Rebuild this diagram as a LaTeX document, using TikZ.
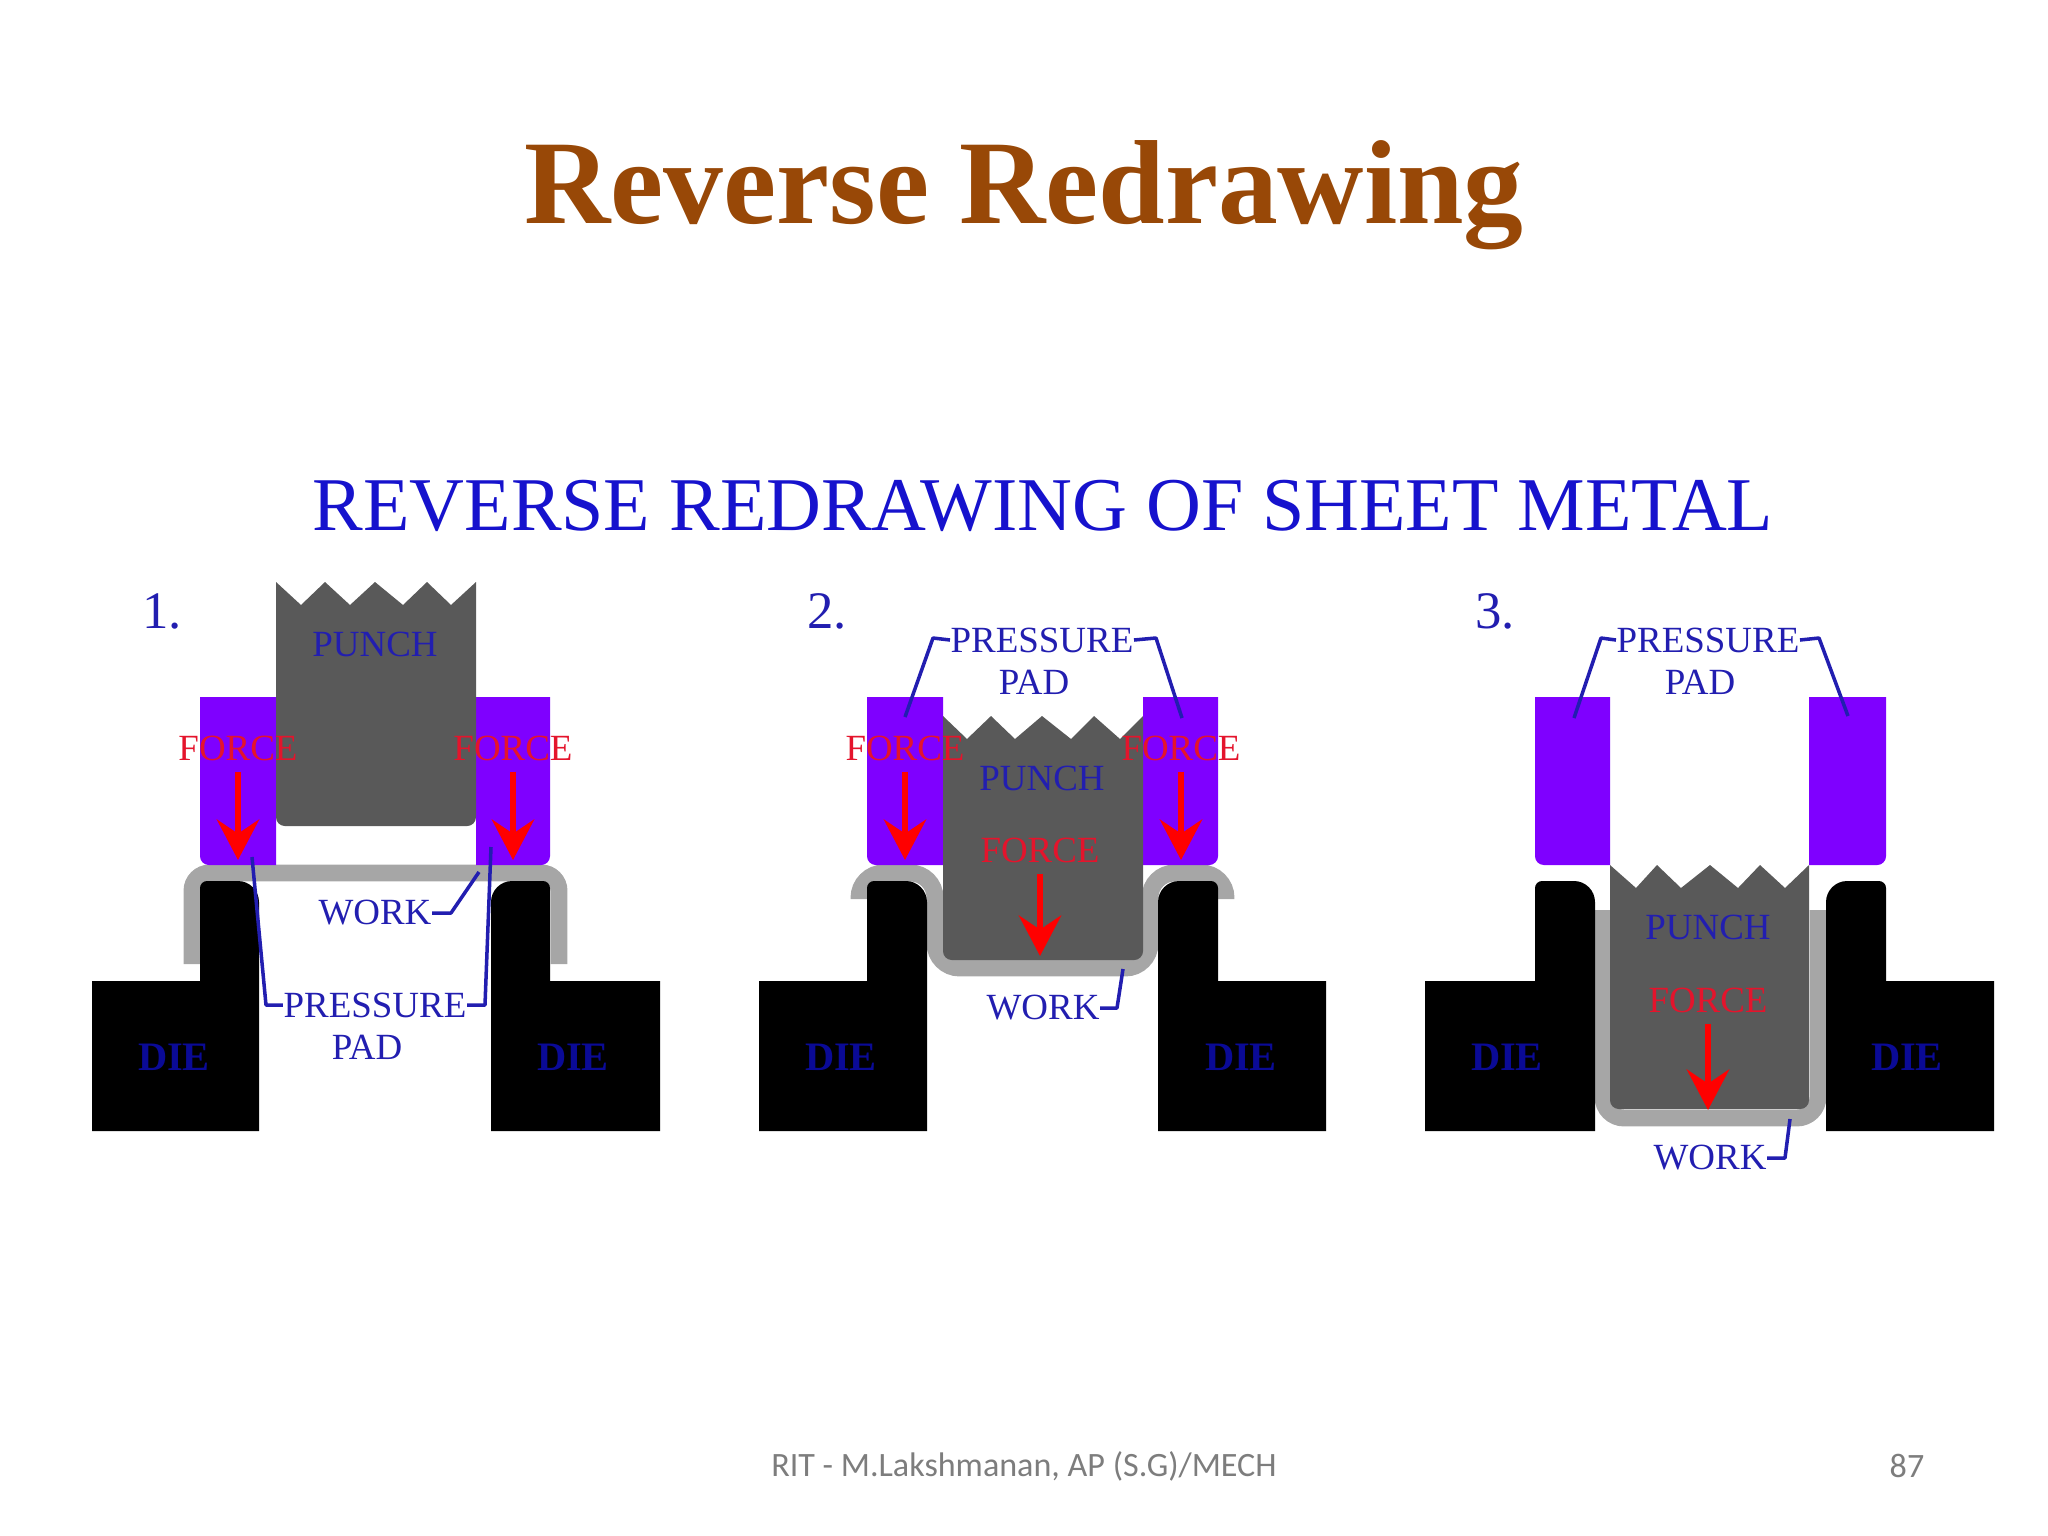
\documentclass[tikz,border=0pt]{standalone}
\usepackage{fontspec}
\setmainfont{Liberation Serif}
\newfontfamily\footfont{Carlito}
\usetikzlibrary{arrows.meta}
\definecolor{titlebrown}{RGB}{152,72,7}
\definecolor{inkblue}{RGB}{34,30,176}
\definecolor{headblue}{RGB}{22,18,205}
\definecolor{dieblue}{RGB}{10,10,150}
\definecolor{forcered}{RGB}{228,20,44}
\definecolor{padpurple}{RGB}{127,0,255}
\definecolor{punchgray}{RGB}{89,89,89}
\definecolor{workgray}{RGB}{166,166,166}
\definecolor{footgray}{RGB}{125,125,125}

\begin{document}
\begin{tikzpicture}[x=0.01cm, y=-0.01cm]
	\tikzstyle{label}=[inner sep=0pt, text=inkblue, font=\fontsize{10.5}{12}\selectfont]
	\tikzstyle{dielabel}=[label, text=dieblue, font=\fontsize{11.5}{12}\selectfont\bfseries]
	\tikzstyle{forcelabel}=[label, text=forcered]
	\tikzstyle{number}=[label, font=\fontsize{15}{18}\selectfont]
	\tikzstyle{lead}=[draw=inkblue, line width=1pt, line join=round]
	\tikzstyle{force}=[draw=red, line width=1.8pt, shorten <=3pt, -{Stealth[length=11.5pt, width=12pt, inset=4pt]}]
	\tikzstyle{work}=[draw=workgray, line width=4.8pt, rounded corners=5pt]
	\tikzstyle{punch}=[fill=punchgray]
	\tikzstyle{pad}=[fill=padpurple]
	\useasboundingbox (0,0) rectangle (2048,1536);

	\node (TITLE) at (1024,195) [text=titlebrown, font=\fontsize{34}{40}\selectfont\bfseries] {Reverse Redrawing};
	\node (HEAD) at (1043,506) [text=headblue, font=\fontsize{21.6}{26}\selectfont] {REVERSE REDRAWING OF SHEET METAL};
	\node (FOOT) at (1024,1466) [text=footgray, font=\footfont\fontsize{9.7}{12}\selectfont] {RIT - M.Lakshmanan, AP (S.G)/MECH};
	\node (PAGE) at (1907,1466) [text=footgray, font=\footfont\fontsize{9.7}{12}\selectfont] {87};

	% work pieces
	\draw[work] (192,964) -- (192,873) -- (559,873) -- (559,964);
	\draw[work, rounded corners=7pt] (859,899) -- (859,873) -- (935,873) -- (935,968) -- (1150,968) -- (1150,873) -- (1226,873) -- (1226,899);
	\draw[work, rounded corners=6pt] (1603,910) -- (1603,1118) -- (1818,1118) -- (1818,910);

	% dies
	\foreach \a/\b/\c in {92/200/259, 759/867/927, 1425/1535/1595}
		\fill (\a,1131) -- (\a,981) -- (\b,981) [rounded corners=2pt] -- (\b,881) [rounded corners=6pt] -- (\c,881) [sharp corners] -- (\c,1131) -- cycle;
	\foreach \a/\b/\c in {491/550/660, 1158/1218/1326, 1826/1886/1994}
		\fill (\c,1131) -- (\c,981) -- (\b,981) [rounded corners=2pt] -- (\b,881) [rounded corners=6pt] -- (\a,881) [sharp corners] -- (\a,1131) -- cycle;

	% pressure pads
	\foreach \a/\b in {200/276, 867/943, 1535/1610}
		\fill[pad] (\b,697) -- (\a,697) [rounded corners=2.5pt] -- (\a,865) [sharp corners] -- (\b,865) -- cycle;
	\foreach \a/\b in {476/550, 1143/1218, 1809/1886}
		\fill[pad] (\a,697) -- (\b,697) [rounded corners=2.5pt] -- (\b,865) [sharp corners] -- (\a,865) -- cycle;

	% punches
	\fill[punch] (276,582) -- (301,605) -- (325,582) -- (350,605) -- (375,582) -- (403,605) -- (427,582) -- (451,605) -- (476,582) [rounded corners=2.5pt] -- (476,826) -- (276,826) [sharp corners] -- cycle;
	\fill[punch] (943,716) -- (967,739) -- (991,716) -- (1015,739) -- (1042,716) -- (1071,739) -- (1094,716) -- (1120,739) -- (1143,716) [rounded corners=2.5pt] -- (1143,960) -- (943,960) [sharp corners] -- cycle;
	\fill[punch] (1610,865) -- (1636,888) -- (1657,865) -- (1681,888) -- (1710,865) -- (1738,888) -- (1760,865) -- (1785,888) -- (1809,865) [rounded corners=2.5pt] -- (1809,1109) -- (1610,1109) [sharp corners] -- cycle;

	% panel 1
	\node[number] (NUMA) at (162,611) {1.};
	\node[label] (PUNCHA) at (375,644) {PUNCH};
	\node[forcelabel] (FORCEAL) at (238,748) {FORCE};
	\node[forcelabel] (FORCEAR) at (513,748) {FORCE};
	\node[label] (WORKA) at (375,913) {WORK};
	\node[label] (PRESSA) at (375,1005) {PRESSURE};
	\node[label] (PADA) at (367,1047) {PAD};
	\node[dielabel] (DIEAL) at (174,1057) {DIE};
	\node[dielabel] (DIEAR) at (573,1057) {DIE};
	\coordinate (TIPAL) at (238,860);
	\coordinate (TIPAR) at (513,860);
	\coordinate (ENDAW) at (479,872);
	\coordinate (ENDAL) at (252,857);
	\coordinate (ENDAR) at (491,847);
	\draw[force] (FORCEAL.south) -- (TIPAL);
	\draw[force] (FORCEAR.south) -- (TIPAR);
	\draw[lead] (WORKA.east) -- (451,913) -- (ENDAW);
	\draw[lead] (PRESSA.west) -- (266,1005) -- (ENDAL);
	\draw[lead] (PRESSA.east) -- (485,1005) -- (ENDAR);

	% panel 2
	\node[number] (NUMB) at (827,611) {2.};
	\node[label] (PRESSB) at (1042,640) {PRESSURE};
	\node[label] (PADB) at (1034,682) {PAD};
	\node[forcelabel] (FORCEBL) at (905,748) {FORCE};
	\node[forcelabel] (FORCEBR) at (1181,748) {FORCE};
	\node[label] (PUNCHB) at (1042,778) {PUNCH};
	\node[forcelabel] (FORCEBC) at (1040,850) {FORCE};
	\node[label] (WORKB) at (1043,1008) {WORK};
	\node[dielabel] (DIEBL) at (841,1057) {DIE};
	\node[dielabel] (DIEBR) at (1241,1057) {DIE};
	\coordinate (TIPBL) at (905,860);
	\coordinate (TIPBR) at (1181,860);
	\coordinate (TIPBC) at (1040,956);
	\coordinate (ENDBL) at (905,717);
	\coordinate (ENDBR) at (1182,718);
	\coordinate (ENDBW) at (1123,969);
	\draw[force] (FORCEBL.south) -- (TIPBL);
	\draw[force] (FORCEBR.south) -- (TIPBR);
	\draw[force] (FORCEBC.south) -- (TIPBC);
	\draw[lead] (PRESSB.west) -- (933,638) -- (ENDBL);
	\draw[lead] (PRESSB.east) -- (1156,638) -- (ENDBR);
	\draw[lead] (WORKB.east) -- (1117,1008) -- (ENDBW);

	% panel 3
	\node[number] (NUMC) at (1495,611) {3.};
	\node[label] (PRESSC) at (1708,640) {PRESSURE};
	\node[label] (PADC) at (1700,682) {PAD};
	\node[label] (PUNCHC) at (1708,927) {PUNCH};
	\node[forcelabel] (FORCEC) at (1708,1000) {FORCE};
	\node[label] (WORKC) at (1710,1158) {WORK};
	\node[dielabel] (DIECL) at (1507,1057) {DIE};
	\node[dielabel] (DIECR) at (1907,1057) {DIE};
	\coordinate (TIPC) at (1708,1110);
	\coordinate (ENDCL) at (1574,718);
	\coordinate (ENDCR) at (1848,716);
	\coordinate (ENDCW) at (1790,1119);
	\draw[force] (FORCEC.south) -- (TIPC);
	\draw[lead] (PRESSC.west) -- (1601,638) -- (ENDCL);
	\draw[lead] (PRESSC.east) -- (1819,638) -- (ENDCR);
	\draw[lead] (WORKC.east) -- (1785,1158) -- (ENDCW);
\end{tikzpicture}
\end{document}
